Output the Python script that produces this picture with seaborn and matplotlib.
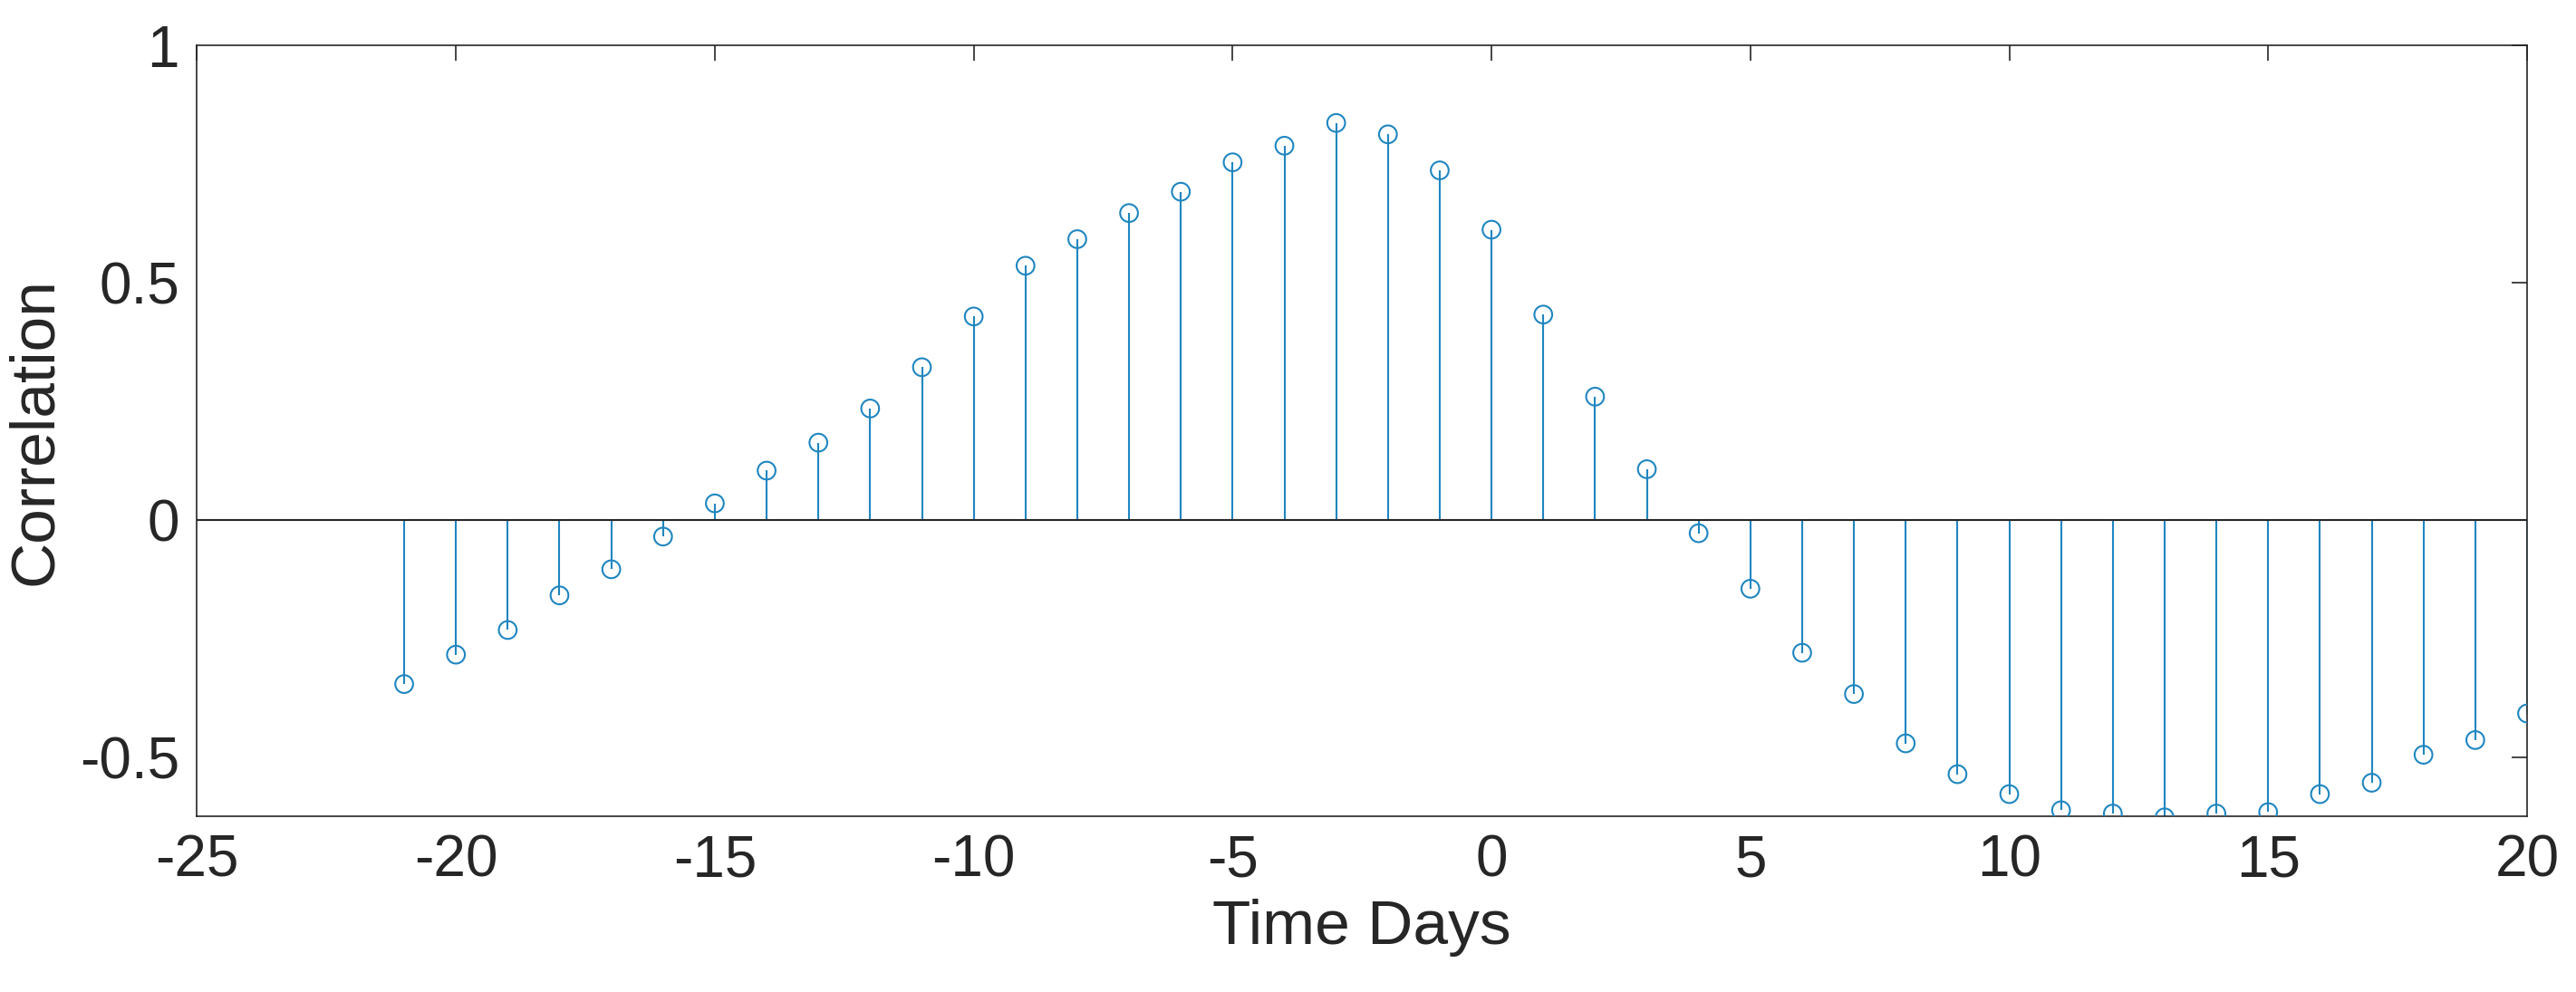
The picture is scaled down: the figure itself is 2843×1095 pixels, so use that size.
import matplotlib
matplotlib.use("Agg")
import matplotlib.pyplot as plt
import seaborn as sns
import pandas as pd

lags = list(range(-21, 21))
corr = [-0.346, -0.284, -0.232, -0.159, -0.104, -0.035, 0.035, 0.104, 0.163, 0.235,
        0.322, 0.429, 0.536, 0.592, 0.647, 0.692, 0.754, 0.789, 0.837, 0.813,
        0.737, 0.612, 0.433, 0.260, 0.107, -0.028, -0.145, -0.280, -0.367, -0.471,
        -0.536, -0.578, -0.612, -0.619, -0.627, -0.619, -0.616, -0.578, -0.554, -0.495,
        -0.464, -0.408]
df = pd.DataFrame({"lag": lags, "corr": corr})

sns.set_style("white")
plt.rcParams['font.family'] = ['Liberation Sans', 'DejaVu Sans']
col = "#1f86c0"
fig = plt.figure(figsize=(28.43, 10.95), dpi=100)
ax = fig.add_axes([0.0765, 0.177, 0.9045, 0.777])
ax.vlines(df["lag"], 0, df["corr"], color=col, lw=1.5)
sns.scatterplot(data=df, x="lag", y="corr", ax=ax, marker="o", s=200,
                facecolors="none", edgecolor=col, linewidth=1.5, zorder=3)
ax.axhline(0, color="#262626", lw=1.5, zorder=2)
ax.set_xlim(-25, 20)
ax.set_ylim(-0.625, 1)
ax.set_xticks(range(-25, 21, 5))
ax.set_yticks([-0.5, 0, 0.5, 1])
ax.set_yticklabels(["-0.5", "0", "0.5", "1"])
ax.set_xticklabels([str(v) for v in range(-25, 21, 5)])
ax.tick_params(direction="in", length=12, width=1.2, labelsize=46, colors="#262626",
               top=True, right=True, pad=14)
for s in ax.spines.values():
    s.set_color("#262626"); s.set_linewidth(1.2)
ax.set_xlabel("Time Days", fontsize=50, color="#262626", labelpad=8)
ax.set_ylabel("Correlation", fontsize=50, color="#262626", labelpad=12)
fig.savefig("out.png", dpi=100)
